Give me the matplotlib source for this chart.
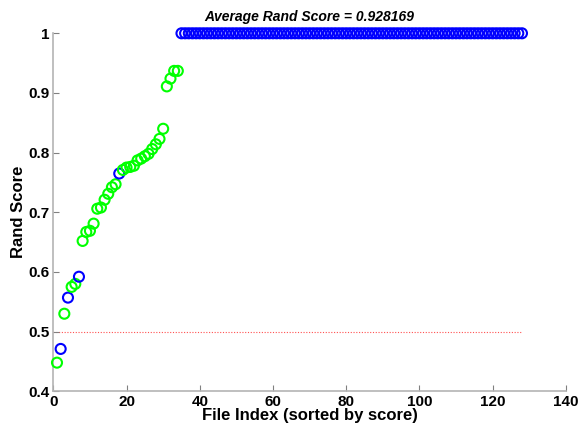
import matplotlib
matplotlib.use("Agg")
import matplotlib.pyplot as plt

plt.rcParams['font.family'] = ['Liberation Sans', 'DejaVu Sans']

# Rand scores sorted ascending (first 34 imperfect, then 94 perfect)
scores_low = [0.448, 0.471, 0.530, 0.557, 0.575, 0.580, 0.592, 0.652, 0.667, 0.669,
              0.681, 0.706, 0.708, 0.721, 0.731, 0.742, 0.747, 0.765, 0.771, 0.775,
              0.776, 0.778, 0.787, 0.790, 0.794, 0.798, 0.806, 0.814, 0.823, 0.840,
              0.911, 0.924, 0.937, 0.937]
groups_low = ['g', 'b', 'g', 'b', 'g', 'g', 'b', 'g', 'g', 'g',
              'g', 'g', 'g', 'g', 'g', 'g', 'g', 'b', 'g', 'g',
              'g', 'g', 'g', 'g', 'g', 'g', 'g', 'g', 'g', 'g',
              'g', 'g', 'g', 'g']
scores_perfect = [1.0, 1.0, 1.0, 1.0, 1.0, 1.0, 1.0, 1.0, 1.0, 1.0,
                  1.0, 1.0, 1.0, 1.0, 1.0, 1.0, 1.0, 1.0, 1.0, 1.0,
                  1.0, 1.0, 1.0, 1.0, 1.0, 1.0, 1.0, 1.0, 1.0, 1.0,
                  1.0, 1.0, 1.0, 1.0, 1.0, 1.0, 1.0, 1.0, 1.0, 1.0,
                  1.0, 1.0, 1.0, 1.0, 1.0, 1.0, 1.0, 1.0, 1.0, 1.0,
                  1.0, 1.0, 1.0, 1.0, 1.0, 1.0, 1.0, 1.0, 1.0, 1.0,
                  1.0, 1.0, 1.0, 1.0, 1.0, 1.0, 1.0, 1.0, 1.0, 1.0,
                  1.0, 1.0, 1.0, 1.0, 1.0, 1.0, 1.0, 1.0, 1.0, 1.0,
                  1.0, 1.0, 1.0, 1.0, 1.0, 1.0, 1.0, 1.0, 1.0, 1.0,
                  1.0, 1.0, 1.0, 1.0]
groups_perfect = ['b'] * len(scores_perfect)

average_score = 0.928169
threshold = 0.5
x_ticks = [0, 20, 40, 60, 80, 100, 120, 140]
y_ticks = [0.4, 0.5, 0.6, 0.7, 0.8, 0.9, 1.0]
y_ticklabels = ['0.4', '0.5', '0.6', '0.7', '0.8', '0.9', '1']

scores = scores_low + scores_perfect
groups = groups_low + groups_perfect
idx = list(range(1, len(scores) + 1))
color_map = {'g': '#00ff00', 'b': '#0000ff'}
colors = [color_map[g] for g in groups]

fig = plt.figure(figsize=(5.81, 4.29), dpi=100)
ax = fig.add_axes([0.0918, 0.0879, 0.974 - 0.0918, 0.9224 - 0.0879])

ax.plot([0, len(scores)], [threshold, threshold], linestyle=(0, (1, 1.5)),
        color='#ff5050', linewidth=0.8, zorder=1)
ax.scatter(idx, scores, s=52, facecolors='none', edgecolors=colors,
           linewidths=1.5, zorder=3, clip_on=False)

ax.set_xlim(0, 140)
ax.set_ylim(0.4, 1.0)
ax.set_xticks(x_ticks)
ax.set_yticks(y_ticks)
ax.set_yticklabels(y_ticklabels)

for s in ['top', 'right']:
    ax.spines[s].set_visible(False)
for s in ['left', 'bottom']:
    ax.spines[s].set_color('#b4b4b4')
    ax.spines[s].set_linewidth(1.2)
ax.tick_params(direction='in', length=4, width=0.8, color='#808080',
               labelsize=11, labelcolor='black')
ax.tick_params(axis='x', pad=3)
ax.tick_params(axis='y', pad=3)
for lab in ax.get_xticklabels() + ax.get_yticklabels():
    lab.set_fontweight('bold')

ax.set_xlabel('File Index (sorted by score)', fontsize=12, fontweight='bold', labelpad=-1)
ax.set_ylabel('Rand Score', fontsize=12, fontweight='bold')
ax.set_title('Average Rand Score = %.6f' % average_score, fontsize=10,
             fontweight='bold', fontstyle='italic', pad=9)
ax.yaxis.set_label_coords(-0.053, 0.5)

fig.savefig('out.png', dpi=100)
